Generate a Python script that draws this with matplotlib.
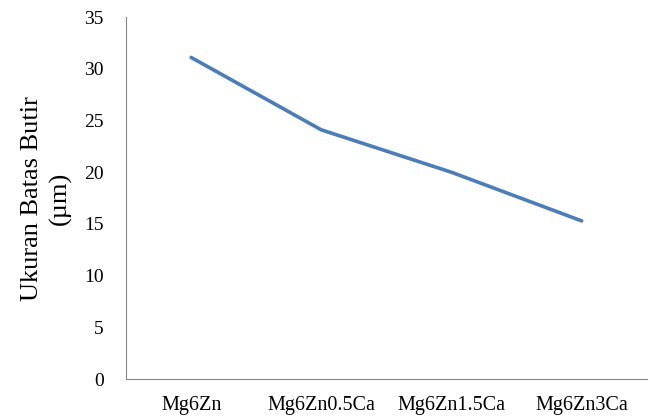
import matplotlib
matplotlib.use('Agg')
import matplotlib.pyplot as plt

categories = ['Mg6Zn', 'Mg6Zn0.5Ca', 'Mg6Zn1.5Ca', 'Mg6Zn3Ca']
grain_size = [31.1, 24.1, 20.0, 15.3]
y_ticks = [0, 5, 10, 15, 20, 25, 30, 35]

plt.rcParams['font.family'] = ['Liberation Serif', 'DejaVu Serif']

fig = plt.figure(figsize=(6.5, 4.18), dpi=100)
ax = fig.add_axes([0.194, 0.093, 0.801, 0.866])

x = range(len(categories))
ax.plot(x, grain_size, color='#4a7ebb', linewidth=2.6, solid_capstyle='round')

ax.set_xlim(-0.5, len(categories) - 0.5)
ax.set_ylim(0, 35)
ax.set_yticks(y_ticks)
ax.set_xticks(list(x))
ax.set_xticklabels(categories)

for side in ['top', 'right']:
    ax.spines[side].set_visible(False)
for side in ['left', 'bottom']:
    ax.spines[side].set_color('#868686')
    ax.spines[side].set_linewidth(0.8)

ax.tick_params(axis='y', length=0, labelsize=14, pad=16)
ax.tick_params(axis='x', length=0, labelsize=14.5, pad=12)

ax.set_ylabel('Ukuran Batas Butir\n(\u00b5m)', fontsize=19, linespacing=1.3, labelpad=9)

fig.savefig('out.png', dpi=100)
